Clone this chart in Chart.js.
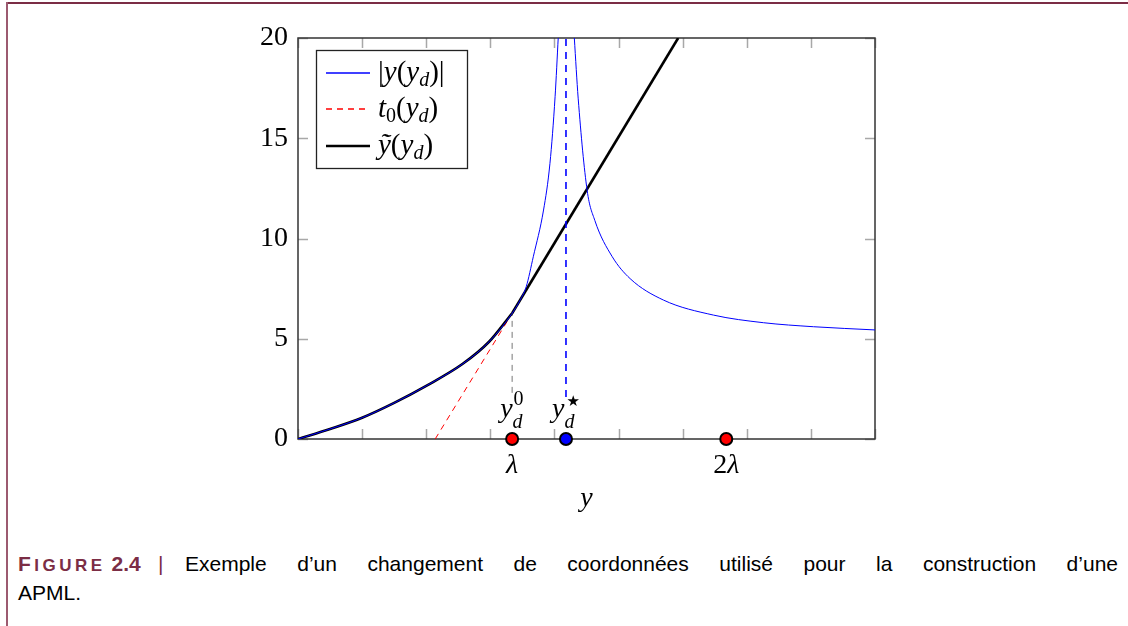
<!DOCTYPE html>
<html>
<head>
<meta charset="utf-8">
<script src="https://cdn.jsdelivr.net/npm/chart.js@4.4.0/dist/chart.umd.min.js"></script>
<style>
  html, body { margin: 0; padding: 0; background: #fff; width: 1128px; height: 626px; overflow: hidden; }
  #frameTop { position: absolute; left: 6px; top: 2px; width: 1122px; height: 2px; background: #7b2d45; }
  #frameLeft { position: absolute; left: 6px; top: 2px; width: 2px; height: 624px; background: #9c5a70; }
  #wrap { position: absolute; left: 0; top: 0; width: 1128px; height: 530px; }
  .cap { position: absolute; font-family: "Liberation Sans", Arial, sans-serif;
         font-size: 21px; line-height: 29px; color: #000; white-space: nowrap; }
  #figLbl { left: 18px; top: 549px; color: #7b2d45; font-weight: bold; }
  #figLbl .sc { font-size: 17px; }
  #figLbl .ls { letter-spacing: 3.5px; }
  #bar { left: 158px; top: 549px; color: #7b2d45; }
  #cap1 { left: 185px; top: 549px; width: 933px; text-align: justify; text-align-last: justify; white-space: normal; }
  #cap2 { left: 18px; top: 578px; }
</style>
</head>
<body>
<div id="frameTop"></div>
<div id="frameLeft"></div>
<div id="wrap"><canvas id="chart" width="1128" height="530"></canvas></div>
<div class="cap" id="figLbl"><span class="ls">F<span class="sc">IGURE</span></span> 2.4</div>
<div class="cap" id="bar">|</div>
<div class="cap" id="cap1">Exemple d’un changement de coordonnées utilisé pour la construction d’une</div>
<div class="cap" id="cap2">APML.</div>

<script>
// axes
const xMin = 0, xMax = 9;
const yMin = 0, yMax = 20;
const yStep = 5;

// positions remarquables
const lambdaVal = 3.34;
const twoLambdaVal = 6.68;
const yStarVal = 4.18;

// |y(y_d)| : branche gauche (avant l'asymptote)
const leftX = [0, 0.5, 1.0, 1.5, 2.0, 2.57, 2.98, 3.34, 3.46, 3.56, 3.67, 3.83, 3.93, 4.01, 4.06];
const leftY = [0, 0.5, 1.06, 1.8, 2.65, 3.75, 4.85, 6.27, 6.9, 7.6, 9.09, 11.42, 13.75, 17.07, 20.07];
// |y(y_d)| : branche droite
const rightX = [4.31, 4.37, 4.51, 4.63, 4.9, 5.18, 5.7, 6.48, 7.26, 8.04, 9.0];
const rightY = [20, 17.0, 12.4, 10.9, 9.1, 8.0, 6.93, 6.18, 5.8, 5.6, 5.44];

// t0(y_d) : tangente en y_d^0
const tanX = [2.14, 3.34];
const tanY = [0, 6.27];

// ỹ(y_d) : partie linéaire après y_d^0
const linX = [3.34, 5.93];
const linY = [6.27, 20];

// pointillés verticaux
const grayDashX = [3.34, 3.34];
const grayDashY = [2.3, 6.27];
const blueDashX = [4.18, 4.18];
const blueDashY = [2.1, 20];

const pts = (xs, ys) => xs.map((x, i) => ({ x, y: ys[i] }));

const serif = '"Liberation Serif", "DejaVu Serif", serif';
const up = s => s + 'px ' + serif;
const it = s => 'italic ' + s + 'px ' + serif;

// texte "mathématique" : segments avec police et décalage vertical
function drawRich(ctx, x, base, parts, align) {
  let w = 0;
  parts.forEach(p => { ctx.font = p.f; p.w = ctx.measureText(p.t).width; if (!p.over) w += p.w; });
  let cx = align === 'center' ? x - w / 2 : x;
  let last = cx;
  parts.forEach(p => {
    ctx.font = p.f;
    const px = p.over ? last : cx;
    ctx.fillText(p.t, px + (p.dx || 0), base + (p.dy || 0));
    if (!p.over) { last = cx; cx += p.w; }
  });
}

const legendRows = [
  { color: '#0000ff', width: 1.3, dash: [], yc: 73, txt: [
    { t: '|', f: up(29) }, { t: 'y', f: it(29) }, { t: '(', f: up(29) }, { t: 'y', f: it(29) },
    { t: 'd', f: it(20), dy: 5 }, { t: ')', f: up(29) }, { t: '|', f: up(29) }] },
  { color: '#ff0000', width: 1.3, dash: [6, 5], yc: 109, txt: [
    { t: 't', f: it(29) }, { t: '0', f: up(20), dy: 5 }, { t: '(', f: up(29) }, { t: 'y', f: it(29) },
    { t: 'd', f: it(20), dy: 5 }, { t: ')', f: up(29) }] },
  { color: '#000000', width: 2.6, dash: [], yc: 146, txt: [
    { t: 'ỹ', f: it(29) }, { t: '(', f: up(29) }, { t: 'y', f: it(29) },
    { t: 'd', f: it(20), dy: 5 }, { t: ')', f: up(29) }] }
];

const frame = {
  id: 'frame',
  beforeDatasetsDraw(chart) {
    const { ctx, chartArea: a, scales: { x, y } } = chart;
    ctx.save();
    ctx.strokeStyle = '#a8a8a8';
    ctx.lineWidth = 1.5;
    ctx.beginPath();
    x.ticks.forEach(t => {
      const px = Math.round(x.getPixelForValue(t.value)) + 0.5;
      ctx.moveTo(px, a.bottom); ctx.lineTo(px, a.bottom - 10);
      ctx.moveTo(px, a.top); ctx.lineTo(px, a.top + 10);
    });
    y.ticks.forEach(t => {
      const py = Math.round(y.getPixelForValue(t.value)) + 0.5;
      ctx.moveTo(a.left, py); ctx.lineTo(a.left + 10, py);
      ctx.moveTo(a.right, py); ctx.lineTo(a.right - 10, py);
    });
    ctx.stroke();
    ctx.strokeStyle = '#333';
    ctx.lineWidth = 1.5;
    ctx.strokeRect(a.left, a.top, a.width, a.height);
    ctx.restore();
  },
  afterDraw(chart) {
    const { ctx, scales: { x, y } } = chart;
    ctx.save();
    ctx.fillStyle = '#000';
    ctx.textBaseline = 'alphabetic';
    const y0 = y.getPixelForValue(0);

    // étiquettes au-dessus des points
    const xl = x.getPixelForValue(lambdaVal);
    drawRich(ctx, xl - 12, y0 - 22, [
      { t: 'y', f: it(28) },
      { t: 'd', f: it(20), dy: 11 },
      { t: '0', f: up(20), dy: -12, over: true, dx: 1 }
    ]);
    const xs = x.getPixelForValue(yStarVal);
    drawRich(ctx, xs - 14, y0 - 22, [
      { t: 'y', f: it(28) },
      { t: 'd', f: it(20), dy: 11 },
      { t: '★', f: '15px "DejaVu Sans"', dy: -11, over: true, dx: 2 }
    ]);

    // λ, 2λ, y
    drawRich(ctx, xl, y0 + 34, [{ t: 'λ', f: it(28) }], 'center');
    drawRich(ctx, x.getPixelForValue(twoLambdaVal), y0 + 34, [
      { t: '2', f: up(28) }, { t: 'λ', f: it(28) }
    ], 'center');
    drawRich(ctx, (x.left + x.right) / 2, y0 + 67, [{ t: 'y', f: it(28) }], 'center');

    // légende
    const lx = 316, ly = 50, lw = 151, lh = 118;
    ctx.fillStyle = '#fff';
    ctx.fillRect(lx, ly, lw, lh);
    ctx.strokeStyle = '#222';
    ctx.lineWidth = 1.3;
    ctx.strokeRect(lx + 0.5, ly + 0.5, lw, lh);
    legendRows.forEach(r => {
      ctx.save();
      ctx.beginPath();
      ctx.setLineDash(r.dash);
      ctx.lineWidth = r.width;
      ctx.strokeStyle = r.color;
      ctx.moveTo(326, r.yc);
      ctx.lineTo(370, r.yc);
      ctx.stroke();
      ctx.restore();
      ctx.fillStyle = '#000';
      drawRich(ctx, 378, r.yc + 8, r.txt);
    });
    ctx.restore();
  }
};

new Chart(document.getElementById('chart'), {
  type: 'scatter',
  data: {
    datasets: [
      {
        label: 'lambda',
        data: [lambdaVal, twoLambdaVal].map(v => ({ x: v, y: 0 })),
        showLine: false, pointRadius: 6, pointBackgroundColor: '#ff0000',
        pointBorderColor: '#000', pointBorderWidth: 2, clip: false
      },
      {
        label: 'ystar',
        data: [{ x: yStarVal, y: 0 }],
        showLine: false, pointRadius: 6, pointBackgroundColor: '#0000ff',
        pointBorderColor: '#000', pointBorderWidth: 2, clip: false
      },
      {
        label: '|y(yd)| gauche',
        data: pts(leftX, leftY),
        showLine: true, borderColor: '#0000ff', borderWidth: 1, pointRadius: 0,
        cubicInterpolationMode: 'monotone'
      },
      {
        label: '|y(yd)| droite',
        data: pts(rightX, rightY),
        showLine: true, borderColor: '#0000ff', borderWidth: 1, pointRadius: 0,
        cubicInterpolationMode: 'monotone'
      },
      {
        label: 'asymptote',
        data: pts(blueDashX, blueDashY),
        showLine: true, borderColor: '#0000ff', borderWidth: 1.6, borderDash: [7, 6], pointRadius: 0
      },
      {
        label: 'ytilde courbe',
        data: pts(leftX, leftY).filter(p => p.x <= lambdaVal),
        showLine: true, borderColor: '#000', borderWidth: 2.6, pointRadius: 0,
        cubicInterpolationMode: 'monotone'
      },
      {
        label: 'ytilde lin',
        data: pts(linX, linY),
        showLine: true, borderColor: '#000', borderWidth: 2.6, pointRadius: 0
      },
      {
        label: 't0',
        data: pts(tanX, tanY),
        showLine: true, borderColor: '#ff0000', borderWidth: 1, borderDash: [6, 5], pointRadius: 0
      },
      {
        label: 'yd0',
        data: pts(grayDashX, grayDashY),
        showLine: true, borderColor: '#777', borderWidth: 1, borderDash: [6, 5], pointRadius: 0
      }
    ]
  },
  options: {
    responsive: false,
    animation: false,
    layout: { padding: { left: 0, top: 38, right: 253, bottom: 91 } },
    plugins: { legend: { display: false }, tooltip: { enabled: false } },
    scales: {
      x: {
        type: 'linear', display: false, min: xMin, max: xMax,
        ticks: { stepSize: 1 }
      },
      y: {
        type: 'linear', min: yMin, max: yMax,
        grid: { display: false, drawTicks: false }, border: { display: false },
        ticks: { stepSize: yStep, padding: 10, color: '#000', font: { family: serif, size: 28 } },
        afterFit: s => { s.width = 298; }
      }
    }
  },
  plugins: [frame]
});
</script>
</body>
</html>
